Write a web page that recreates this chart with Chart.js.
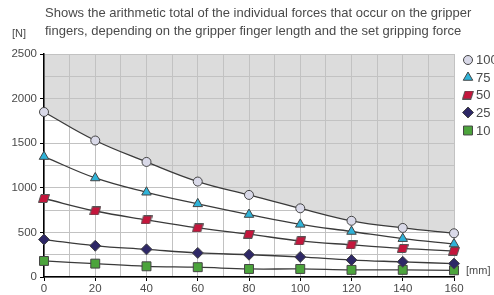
<!DOCTYPE html>
<html>
<head>
<meta charset="utf-8">
<script src="https://cdn.jsdelivr.net/npm/chart.js@4.4.1/dist/chart.umd.min.js"></script>
<style>
  html, body { margin: 0; padding: 0; background: #fff; overflow: hidden; }
  #wrap { position: relative; width: 494px; height: 295px; }
</style>
</head>
<body>
<div id="wrap"><canvas id="force-chart" width="494" height="295"></canvas></div>
<script>
// finger length in mm
const lengths = [0, 20, 40, 60, 80, 100, 120, 140, 160];
// sum of finger forces [N] per set gripping force
const force100 = [1850, 1530, 1290, 1070, 920, 770, 630, 550, 490];
const force75 = [1350, 1110, 950, 820, 700, 590, 510, 430, 370];
const force50 = [880, 740, 640, 550, 480, 405, 360, 320, 290];
const force25 = [420, 350, 310, 270, 250, 225, 190, 170, 150];
const force10 = [180, 150, 120, 110, 90, 90, 80, 80, 75];
const seriesLabels = ['100 %', '75 %', '50 %', '25 %', '10 %'];
const titleLines = [
  'Shows the arithmetic total of the individual forces that occur on the gripper',
  'fingers, depending on the gripper finger length and the set gripping force'
];
const yTicks = [0, 500, 1000, 1500, 2000, 2500];
const xTicks = [0, 20, 40, 60, 80, 100, 120, 140, 160];

const FONT = '"Liberation Sans", Arial, sans-serif';
const TEXT = '#4a4a4a';

// parallelogram marker for the 50 % curve
function makeRhomb() {
  const c = document.createElement('canvas');
  c.width = 12; c.height = 9;
  const g = c.getContext('2d');
  g.beginPath();
  g.moveTo(3, 0.5); g.lineTo(11.5, 0.5); g.lineTo(9, 8.5); g.lineTo(0.5, 8.5);
  g.closePath();
  g.fillStyle = '#c4163c';
  g.fill();
  g.strokeStyle = '#555';
  g.lineWidth = 1;
  g.stroke();
  return c;
}
const rhomb = makeRhomb();

function series(label, values, style, color, radius) {
  return {
    label: label,
    data: lengths.map((l, i) => ({ x: l, y: values[i] })),
    borderColor: '#3a3a3a',
    borderWidth: 1.3,
    tension: 0.4,
    clip: false,
    pointStyle: style,
    pointRadius: radius,
    pointHoverRadius: radius,
    pointBackgroundColor: color,
    pointBorderColor: '#444',
    pointBorderWidth: 1,
    fill: false
  };
}

const datasets = [
  series(seriesLabels[0], force100, 'circle', '#d9d9e8', 4.5),
  series(seriesLabels[1], force75, 'triangle', '#2fb3d8', 5.5),
  series(seriesLabels[2], force50, rhomb, '#c4163c', 5),
  series(seriesLabels[3], force25, 'rectRot', '#2e2866', 5.5),
  series(seriesLabels[4], force10, 'rect', '#4ca43c', 6.3)
];
// grey area above the top curve
datasets[0].fill = 'end';
datasets[0].backgroundColor = '#dcdcdc';

const textPlugin = {
  id: 'texts',
  afterDraw(chart) {
    const ctx = chart.ctx;
    ctx.save();
    ctx.fillStyle = TEXT;
    ctx.textBaseline = 'middle';
    ctx.font = '13px ' + FONT;
    ctx.fillText(titleLines[0], 45, 13);
    ctx.fillText(titleLines[1], 45, 31);
    ctx.font = '11px ' + FONT;
    ctx.fillText('[N]', 12, 34);
    ctx.fillText('[mm]', 466, 271);

    // legend
    const ys = [60, 77.5, 95, 112.5, 130.5];
    chart.data.datasets.forEach((ds, i) => {
      ctx.fillStyle = ds.pointBackgroundColor;
      ctx.strokeStyle = ds.pointBorderColor;
      ctx.lineWidth = 1;
      Chart.helpers.drawPoint(ctx, { pointStyle: ds.pointStyle, radius: ds.pointRadius, rotation: 0, borderWidth: 1 }, 468, ys[i]);
      ctx.fillStyle = TEXT;
      ctx.font = '13px ' + FONT;
      ctx.fillText(ds.label, 476, ys[i] + 0.5);
    });
    ctx.restore();
  }
};

new Chart(document.getElementById('force-chart').getContext('2d'), {
  type: 'line',
  data: { datasets: datasets },
  options: {
    responsive: false,
    animation: false,
    layout: { padding: { top: 54, right: 40, left: 0, bottom: 0 } },
    plugins: {
      legend: { display: false },
      tooltip: { enabled: false },
      filler: { drawTime: 'beforeDraw' }
    },
    scales: {
      x: {
        type: 'linear',
        min: 0,
        max: 160,
        afterFit(scale) { scale.height = 18; },
        afterBuildTicks(scale) {
          scale.ticks = [];
          for (let v = 0; v <= 160; v += 10) scale.ticks.push({ value: v });
        },
        ticks: {
          autoSkip: false,
          maxRotation: 0,
          padding: 1,
          color: TEXT,
          font: { family: FONT, size: 11.5 },
          callback: v => xTicks.includes(v) ? String(v) : ''
        },
        grid: {
          color: '#c2c2c2',
          lineWidth: 1,
          tickLength: 4,
          tickColor: c => xTicks.includes(c.tick.value) ? '#000' : 'rgba(0,0,0,0)'
        },
        border: { color: '#000', width: 1.5 }
      },
      y: {
        min: 0,
        max: 2500,
        afterFit(scale) { scale.width = 44; },
        afterBuildTicks(scale) {
          scale.ticks = [];
          for (let v = 0; v <= 2500; v += 250) scale.ticks.push({ value: v });
        },
        ticks: {
          autoSkip: false,
          padding: 3,
          color: TEXT,
          font: { family: FONT, size: 11.5 },
          callback: v => yTicks.includes(v) ? String(v) : ''
        },
        grid: {
          color: '#c2c2c2',
          lineWidth: 1,
          tickLength: 4,
          tickColor: c => yTicks.includes(c.tick.value) ? '#000' : 'rgba(0,0,0,0)'
        },
        border: { color: '#000', width: 1.5 }
      }
    }
  },
  plugins: [textPlugin]
});
</script>
</body>
</html>
